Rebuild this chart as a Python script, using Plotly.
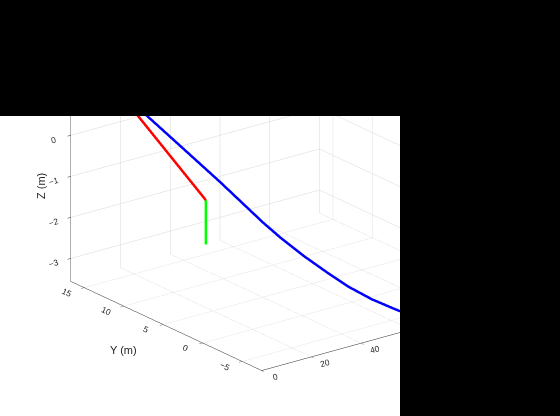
import plotly.graph_objects as go

# ---- data ----
blue_x = [0.0, 13.37, 20.04, 26.73, 34.57, 37.67, 41.92, 46.19, 49.84, 54.08, 58.33, 59.56, 62.0]
blue_y = [16.70, 11.49, 8.88, 6.28, 3.22, 2.01, 0.35, -1.31, -2.74, -4.39, -6.03, -6.53, -7.40]
blue_z = [2.15, 0.758, 0.062, -0.637, -1.496, -1.803, -2.177, -2.507, -2.770, -3.002, -3.170, -3.214, -3.28]

red_x = [0.0, 34.6]
red_y = [10.5, 10.5]
red_z = [1.58, -1.60]

green_x = [34.6, 34.6]
green_y = [10.5, 10.5]
green_z = [-1.60, -2.68]

x_range = [0, 100]
y_range = [-7.47, 16.7]
z_range = [-3.56, 3.57]
x_ticks = [0, 20, 40, 60, 80, 100]
y_ticks = [-5, 0, 5, 10, 15]
z_ticks = [-3, -2, -1, 0, 1, 2, 3]

# view: azimuth -37.5 deg, elevation 21 deg (MATLAB-style), orthographic
K = 2.09  # zoom via aspect ratio
dir_ = (-0.5684, -0.7407, 0.3584)
cen = (-0.3132 * K, 0.0666 * K, -0.359 * K)
D = 4.0
eye = tuple(c + D * d for c, d in zip(cen, dir_))

fig = go.Figure()
fig.add_trace(go.Scatter3d(x=blue_x, y=blue_y, z=blue_z, mode="lines",
                           line=dict(color="#0000ff", width=5), showlegend=False))
fig.add_trace(go.Scatter3d(x=red_x, y=red_y, z=red_z, mode="lines",
                           line=dict(color="#ff0000", width=5), showlegend=False))
fig.add_trace(go.Scatter3d(x=green_x, y=green_y, z=green_z, mode="lines",
                           line=dict(color="#00ff00", width=5), showlegend=False))

axis_common = dict(showgrid=True, gridcolor="#d8d8d8", gridwidth=1,
                   showline=True, linecolor="#262626", linewidth=1,
                   ticks="outside", ticklen=4, tickcolor="#262626",
                   zeroline=False, showspikes=False, showbackground=False,
                   tickfont=dict(family="Liberation Sans", size=10, color="#262626"),
                   title=dict(text=""))

fig.update_layout(
    width=560, height=416,
    margin=dict(l=0, r=0, t=0, b=0),
    paper_bgcolor="black",
    scene=dict(
        domain=dict(x=[0, 400/560], y=[0, 300/416]),
        bgcolor="white",
        xaxis=dict(range=x_range, tickvals=x_ticks, tickangle=-15, **axis_common),
        yaxis=dict(range=y_range, tickvals=y_ticks, tickangle=25, **axis_common),
        zaxis=dict(range=z_range, tickvals=z_ticks, **axis_common),
        aspectmode="manual",
        aspectratio=dict(x=K, y=K, z=K),
        camera=dict(
            projection=dict(type="orthographic"),
            up=dict(x=0, y=0, z=1),
            center=dict(x=cen[0], y=cen[1], z=cen[2]),
            eye=dict(x=eye[0], y=eye[1], z=eye[2]),
        ),
    ),
    annotations=[
        dict(text="Y (m)", x=123/560, y=1-350/416, xref="paper", yref="paper",
             xanchor="center", yanchor="middle",
             showarrow=False, font=dict(family="Liberation Sans", size=11, color="#262626")),
        dict(text="Z (m)", x=41/560, y=1-186/416, xref="paper", yref="paper",
             xanchor="center", yanchor="middle",
             textangle=-90, showarrow=False,
             font=dict(family="Liberation Sans", size=11, color="#262626")),
    ],
)

fig.write_html("out.html", config={"displayModeBar": False},
               post_script="document.body.style.margin='0';document.body.style.background='black';")
